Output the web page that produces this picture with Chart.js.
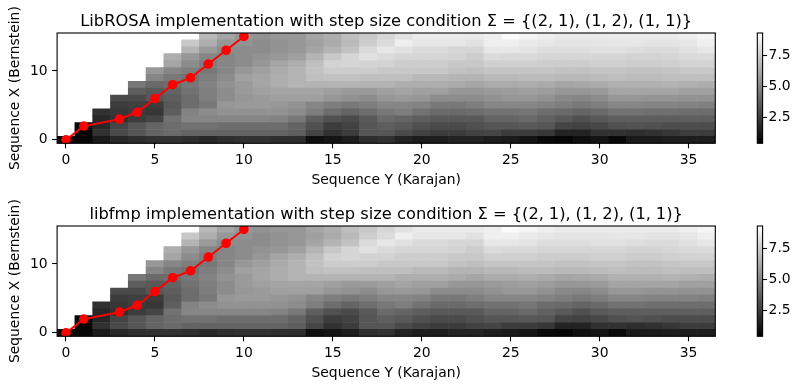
<!DOCTYPE html>
<html>
<head>
<meta charset="utf-8">
<script src="https://cdn.jsdelivr.net/npm/chart.js@4.4.1/dist/chart.umd.min.js"></script>
<style>
  body { margin: 0; background: #fff; width: 803px; height: 389px; position: relative; overflow: hidden; }
  canvas { position: absolute; }
</style>
</head>
<body>
<canvas id="heat1" width="740" height="194" style="left:0px;top:0px"></canvas>
<canvas id="cbar1" width="63" height="194" style="left:740px;top:0px"></canvas>
<canvas id="heat2" width="740" height="194" style="left:0px;top:193px"></canvas>
<canvas id="cbar2" width="63" height="194" style="left:740px;top:193px"></canvas>
<script>
// accumulated cost, one array per row of sequence X (row 0 at the bottom), columns = sequence Y 0..36
// null = cell not reachable with the step sizes (left blank)
const row0  = [0.7,0.6,1.3,1.8,2.0,2.1,2.1,2.0,1.8,2.0,2.1,2.1, 2.0,2.0,0.9,1.1,1.4,2.0,2.1,1.6,1.4,1.4,1.6,1.6, 1.4,1.3,1.1,0.7,0.6,0.9,1.1,0.7,1.3,1.3,1.4,1.4,1.4];
const row1  = [null,0.6,2.1,3.0,3.4,3.9,4.1,3.9,3.9,3.9,3.9,3.9, 3.9,3.7,2.8,2.1,2.5,3.4,3.4,3.0,2.7,2.5,2.5,2.7, 2.8,2.5,2.5,2.3,1.6,1.6,2.1,2.1,2.0,2.1,2.3,2.5,2.5];
const row2  = [null,0.7,1.8,2.8,3.4,3.9,4.2,4.4,4.4,4.2,4.2,4.2, 4.2,3.9,3.2,2.5,2.7,3.4,3.7,3.5,3.2,3.0,3.0,3.2, 3.4,3.4,3.5,3.4,2.8,2.7,2.9,3.2,3.3,3.2,3.1,3.1,3.1];
const row3  = [null,null,1.8,2.1,2.5,2.8,4.4,5.1,5.1,5.1,5.1,5.1, 5.0,4.6,3.7,3.2,3.0,3.5,4.1,3.9,3.7,3.5,3.5,3.5, 3.9,3.9,4.1,3.8,3.5,3.2,3.5,3.7,3.7,3.7,3.7,3.7,3.7];
const row4  = [null,null,2.1,2.3,2.5,2.3,3.7,5.0,5.3,5.5,5.5,5.5, 5.5,5.3,4.8,4.2,3.9,4.2,4.6,4.8,4.4,4.1,4.1,4.2, 4.4,4.4,4.5,4.2,4.1,3.9,4.1,4.4,4.4,4.3,4.3,4.2,4.2];
const row5  = [null,null,null,2.5,2.6,2.5,3.5,4.2,4.6,5.7,5.8,5.8, 5.7,5.5,5.1,4.8,4.6,4.8,5.1,5.1,5.0,4.6,4.6,4.8, 5.1,5.1,5.1,5.0,4.8,4.6,4.8,5.1,5.1,5.0,5.0,5.0,4.9];
const row6  = [null,null,null,3.0,3.0,3.4,3.7,4.2,4.8,5.3,5.7,5.8, 6.0,6.0,6.0,5.7,5.5,5.3,5.7,5.8,5.7,5.3,5.3,5.3, 5.5,5.7,5.7,5.5,5.2,5.1,5.3,5.7,5.7,5.6,5.6,5.5,5.5];
const row7  = [null,null,null,null,3.7,3.5,3.9,4.4,4.8,5.3,5.8,6.0, 6.2,6.2,6.2,6.0,5.8,5.8,6.0,6.2,6.0,6.0,5.7,5.7, 5.8,5.9,6.0,5.9,5.7,5.7,5.8,6.2,6.2,6.2,6.2,6.0,6.0];
const row8  = [null,null,null,null,4.6,4.1,4.2,4.6,5.0,5.5,5.8,6.2, 6.5,6.7,6.7,6.7,6.7,6.7,6.7,6.5,6.5,6.5,6.4,6.2, 6.4,6.4,6.5,6.4,6.2,6.3,6.4,6.6,6.6,6.6,6.7,6.6,6.5];
const row9  = [null,null,null,null,null,5.1,4.6,4.4,4.8,5.3,6.0,6.2, 6.5,6.7,7.1,7.2,7.2,7.1,7.1,7.1,6.9,6.9,6.7,6.7, 6.9,6.9,7.0,7.0,6.9,6.9,7.0,7.1,7.0,7.0,7.1,7.1,7.1];
const row10 = [null,null,null,null,null,5.7,5.1,4.8,4.6,5.1,5.7,6.0, 6.4,6.7,7.2,7.6,7.6,7.6,7.4,7.4,7.4,7.4,7.2,7.1, 7.3,7.3,7.3,7.3,7.2,7.2,7.3,7.3,7.2,7.2,7.3,7.4,7.4];
const row11 = [null,null,null,null,null,null,6.2,5.3,4.8,5.1,5.3,5.7, 6.2,6.5,7.1,7.8,7.9,7.8,7.8,7.6,7.6,7.6,7.4,7.4, 7.7,7.7,7.7,7.6,7.6,7.6,7.7,7.7,7.6,7.6,7.7,7.8,7.8];
const row12 = [null,null,null,null,null,null,6.5,5.7,5.1,5.1,5.3,5.5, 5.7,6.0,6.7,7.4,7.9,8.3,8.1,7.9,7.9,7.9,7.8,7.6, 8.1,8.0,8.0,7.9,7.9,7.9,7.9,7.9,7.8,7.8,7.9,8.0,8.1];
const row13 = [null,null,null,null,null,null,null,6.7,5.8,5.3,5.3,5.3, 5.5,5.7,6.2,6.7,7.2,8.1,8.5,8.3,8.1,8.1,7.9,7.9, 8.5,8.5,8.4,8.2,8.2,8.2,8.3,8.3,8.2,8.1,8.1,8.3,8.5];
const row14 = [null,null,null,null,null,null,null,7.4,6.5,5.7,5.5,5.3, 5.5,5.7,6.0,6.4,6.9,7.6,8.1,8.8,8.5,8.5,8.5,8.3, 8.8,8.8,8.6,8.5,8.4,8.4,8.4,8.5,8.5,8.4,8.4,8.5,8.8];
const row15 = [null,null,null,null,null,null,null,null,6.9,6.2,5.7,5.5, 5.7,5.7,6.2,6.5,7.1,7.4,7.9,8.3,8.6,8.6,8.6,8.6, 8.8,9.2,9.0,8.8,8.6,8.6,8.6,8.6,8.6,8.6,8.6,8.8,9.0];
const costRows = [row0,row1,row2,row3,row4,row5,row6,row7,row8,row9,row10,row11,row12,row13,row14,row15];

// optimal warping path (column of Y, row of X)
const pathY = [0, 1, 3, 4, 5, 6, 7, 8, 9, 10];
const pathX = [0, 2, 3, 4, 6, 8, 9, 11, 13, 15];

const xTicks = [0, 5, 10, 15, 20, 25, 30, 35];
const yTicks = [0, 10];
const cbarTicks = [2.5, 5.0, 7.5];
const vMin = 0.38, vMax = 9.35;

// thin spaces after the commas, like mathtext
const sp = '\u2009\u200A';
const sigma = '\u03A3 = {(2,' + sp + '1),' + sp + '(1,' + sp + '2),' + sp + '(1,' + sp + '1)}';
const titles = [
  'LibROSA implementation with step size condition ' + sigma,
  'libfmp implementation with step size condition ' + sigma
];

Chart.defaults.font.family = 'DejaVu Sans';
Chart.defaults.font.size = 13.9;
Chart.defaults.color = '#000';

function gray(v) {
  const t = Math.max(0, Math.min(1, (v - vMin) / (vMax - vMin)));
  const g = Math.round(t * 255);
  return 'rgb(' + g + ',' + g + ',' + g + ')';
}

// frame around the axes + the title over it
const framePlugin = {
  id: 'frame',
  afterDraw(chart, args, opts) {
    const a = chart.chartArea, ctx = chart.ctx;
    ctx.save();
    ctx.strokeStyle = '#000';
    ctx.lineWidth = 1.1;
    ctx.strokeRect(a.left, a.top, a.right - a.left, a.bottom - a.top);
    if (opts.text) {
      ctx.fillStyle = '#000';
      ctx.font = '16.3px "DejaVu Sans"';
      ctx.textAlign = 'center';
      ctx.textBaseline = 'alphabetic';
      ctx.fillText(opts.text, (a.left + a.right) / 2, a.top - 7);
    }
    ctx.restore();
  }
};

function makeHeat(id, title) {
  const datasets = costRows.map((row, r) => ({
    type: 'bar',
    data: row.map((v, c) => v == null ? null : { x: c, y: [r - 0.5, r + 0.5] }).filter(p => p),
    backgroundColor: row.filter(v => v != null).map(gray),
    borderWidth: 0,
    barPercentage: 1,
    categoryPercentage: 1,
    grouped: false,
    order: 2
  }));
  datasets.push({
    type: 'line',
    data: pathY.map((c, i) => ({ x: c, y: pathX[i] })),
    borderColor: '#ff0000',
    backgroundColor: '#ff0000',
    borderWidth: 2,
    pointRadius: 4.8,
    pointBorderWidth: 0,
    pointBackgroundColor: '#ff0000',
    clip: 0,
    order: 1
  });

  const tickGrid = { display: true, offset: false, drawOnChartArea: false, drawTicks: true, tickLength: 5, tickWidth: 1.1, tickColor: '#000' };

  new Chart(document.getElementById(id), {
    type: 'bar',
    data: { datasets },
    options: {
      responsive: false,
      animation: false,
      layout: { padding: { top: 33, right: 24.7, left: 0, bottom: 0 } },
      plugins: { legend: { display: false }, tooltip: { enabled: false }, frame: { text: title } },
      scales: {
        x: {
          type: 'linear',
          min: -0.5, max: 36.5,
          offset: false,
          grid: tickGrid,
          border: { display: false },
          afterBuildTicks: s => { s.ticks = xTicks.map(v => ({ value: v })); },
          ticks: { padding: 4, callback: v => String(v) },
          afterFit: s => { s.height = 50.7; },
          title: { display: true, text: 'Sequence Y (Karajan)', padding: { top: 0, bottom: 5 } }
        },
        y: {
          type: 'linear',
          min: -0.5, max: 15.5,
          grid: tickGrid,
          border: { display: false },
          afterBuildTicks: s => { s.ticks = yTicks.map(v => ({ value: v })); },
          ticks: { padding: 4.5, callback: v => String(v) },
          afterFit: s => { s.width = 57.1; },
          title: { display: true, text: 'Sequence X (Bernstein)', padding: { top: 7, bottom: 0 } }
        }
      }
    },
    plugins: [framePlugin]
  });
}

function makeBar(id) {
  new Chart(document.getElementById(id), {
    type: 'bar',
    data: {
      labels: [''],
      datasets: [{
        data: [[vMin, vMax]],
        backgroundColor: ctx => {
          const a = ctx.chart.chartArea;
          if (!a) return '#888';
          const g = ctx.chart.ctx.createLinearGradient(0, a.bottom, 0, a.top);
          g.addColorStop(0, '#000');
          g.addColorStop(1, '#fff');
          return g;
        },
        borderWidth: 0,
        barPercentage: 1,
        categoryPercentage: 1
      }]
    },
    options: {
      responsive: false,
      animation: false,
      layout: { padding: { top: 33, left: 17.3, right: 0, bottom: 50.7 } },
      plugins: { legend: { display: false }, tooltip: { enabled: false }, frame: {} },
      scales: {
        x: { display: false },
        y: {
          position: 'right',
          min: vMin, max: vMax,
          grid: { display: true, drawOnChartArea: false, drawTicks: true, tickLength: 4.5, tickWidth: 1.1, tickColor: '#000' },
          border: { display: false },
          afterBuildTicks: s => { s.ticks = cbarTicks.map(v => ({ value: v })); },
          ticks: { padding: 1.5, callback: v => v.toFixed(1) },
          afterFit: s => { s.width = 40.4; }
        }
      }
    },
    plugins: [framePlugin]
  });
}

makeHeat('heat1', titles[0]);
makeBar('cbar1');
makeHeat('heat2', titles[1]);
makeBar('cbar2');
</script>
</body>
</html>
